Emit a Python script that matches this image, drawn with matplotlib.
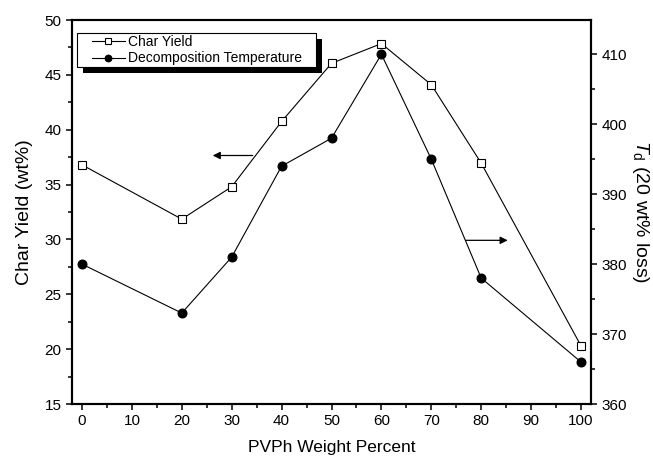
import matplotlib
matplotlib.use("Agg")
import matplotlib.pyplot as plt
from matplotlib.patches import Rectangle
from matplotlib.ticker import MultipleLocator

plt.rcParams['font.family'] = ['Liberation Sans', 'DejaVu Sans']
plt.rcParams['mathtext.fontset'] = 'custom'
plt.rcParams['mathtext.rm'] = 'Liberation Sans'
plt.rcParams['mathtext.it'] = 'Liberation Sans:italic'

# PVPh content (wt%)
pvph = [0, 20, 30, 40, 50, 60, 70, 80, 100]
# Char yield (wt%) - left axis
char_yield = [36.8, 31.85, 34.8, 40.75, 46.05, 47.85, 44.1, 36.95, 20.3]
# Decomposition temperature at 20 wt% loss - right axis
decomp_temp = [380, 373, 381, 394, 398, 410, 395, 378, 366]

xticks = [0, 10, 20, 30, 40, 50, 60, 70, 80, 90, 100]
left_ticks = [15, 20, 25, 30, 35, 40, 45, 50]
right_ticks = [360, 370, 380, 390, 400, 410]

fig = plt.figure(figsize=(6.53, 4.62), dpi=100)
ax1 = fig.add_axes([72 / 653, 1 - 404 / 462, 519 / 653, 384 / 462])
ax2 = ax1.twinx()

line_kw = dict(color='black', lw=0.8, markeredgecolor='black', markeredgewidth=0.8)
l1, = ax1.plot(pvph, char_yield, marker='s', markersize=5.4,
               markerfacecolor='white', label='Char Yield', **line_kw)
l2, = ax2.plot(pvph, decomp_temp, marker='o', markersize=6.4,
               markerfacecolor='black', label='Decomposition Temperature', **line_kw)

ax1.set_xlim(-2, 102)
ax1.set_ylim(15, 50)
ax2.set_ylim(360, 414.9)

ax1.set_xticks(xticks)
ax1.set_yticks(left_ticks)
ax2.set_yticks(right_ticks)
ax1.xaxis.set_minor_locator(MultipleLocator(5))
ax1.yaxis.set_minor_locator(MultipleLocator(2.5))
ax2.yaxis.set_minor_locator(MultipleLocator(5))

for ax in (ax1, ax2):
    ax.tick_params(which='major', direction='out', length=4.5, width=1.1,
                   labelsize=11, pad=3)
    ax.tick_params(which='minor', direction='out', length=3, width=1.1)
    for sp in ax.spines.values():
        sp.set_linewidth(1.5)

ax1.set_xlabel('PVPh Weight Percent', fontsize=12.5, labelpad=8)
ax1.set_ylabel('Char Yield (wt%)', fontsize=14, labelpad=8)
ax2.set_ylabel(r'$\mathit{T}_{\mathrm{d}}$ (20 wt% loss)', fontsize=14,
               rotation=270, labelpad=17)

# Arrows pointing each curve to its axis
arrow_kw = dict(arrowstyle='-|>', color='black', lw=0.9, mutation_scale=11,
                shrinkA=0, shrinkB=0)
ax1.annotate('', xy=(26.2, 37.65), xytext=(34.2, 37.65), arrowprops=arrow_kw)
ax2.annotate('', xy=(85.3, 383.4), xytext=(76.9, 383.4), arrowprops=arrow_kw)

# Legend box with a solid drop shadow
bx0, by0, bw, bh = 0.009, 0.878, 0.461, 0.089
ax2.add_patch(Rectangle((bx0 + 0.0116, by0 - 0.0156), bw, bh, transform=ax2.transAxes,
                        facecolor='black', edgecolor='none', zorder=5, clip_on=False))
ax2.add_patch(Rectangle((bx0, by0), bw, bh, transform=ax2.transAxes,
                        facecolor='white', edgecolor='black', lw=0.8, zorder=6,
                        clip_on=False))
leg = ax2.legend(handles=[l1, l2], loc='upper left', bbox_to_anchor=(0.038, 0.962),
                 borderaxespad=0, borderpad=0, frameon=False, fontsize=10,
                 handlelength=2.4, handletextpad=0.2, labelspacing=0.2,
                 markerscale=0.75)
leg.set_zorder(7)

fig.savefig('out.png', dpi=100)
